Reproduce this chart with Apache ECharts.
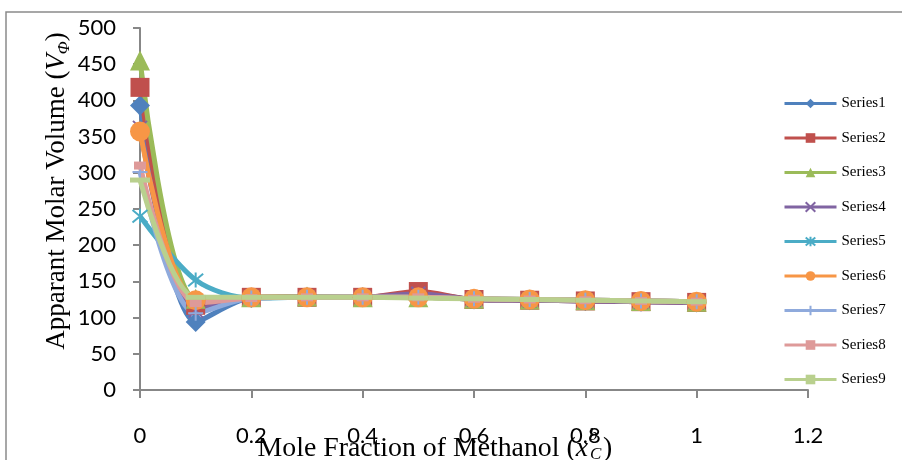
<!DOCTYPE html>
<html>
<head>
<meta charset="utf-8">
<script src="https://cdn.jsdelivr.net/npm/echarts@6/dist/echarts.min.js"></script>
<style>
  html, body { margin: 0; padding: 0; background: #fff; }
  #chart { width: 902px; height: 460px; }
</style>
</head>
<body>
<div id="chart"></div>
<script>
// mole fraction of methanol
const xValues = [0, 0.1, 0.2, 0.3, 0.4, 0.5, 0.6, 0.7, 0.8, 0.9, 1.0]

const series1 = [393, 94, 127, 128, 128, 134, 125, 124, 123, 122, 121]
const series2 = [418, 117, 128, 128, 128, 136, 125, 124, 123, 122, 121]
const series3 = [455, 126, 128, 129, 128, 128, 126, 125, 124, 123, 122]
const series4 = [362, 110, 128, 128, 128, 133, 125, 124, 123, 122, 121]
const series5 = [240, 152, 127, 128, 128, 128, 126, 125, 124, 123, 122]
const series6 = [357, 124, 128, 128, 128, 128, 126, 125, 124, 123, 122]
const series7 = [301, 106, 127, 128, 128, 128, 126, 125, 124, 123, 122]
const series8 = [310, 120, 127, 128, 128, 128, 126, 125, 124, 123, 122]
const series9 = [290, 128, 128, 128, 128, 127, 126, 125, 124, 123, 122]

const seriesNames = ['Series1', 'Series2', 'Series3', 'Series4', 'Series5', 'Series6', 'Series7', 'Series8', 'Series9']
const seriesValues = [series1, series2, series3, series4, series5, series6, series7, series8, series9]
const colors = ['#4F81BD', '#C0504D', '#9BBB59', '#8064A2', '#4BACC6', '#F79646', '#8FAADC', '#DE9A99', '#B9D08E']

const markers = [
  { symbol: 'diamond', size: 20 },
  { symbol: 'rect', size: 19 },
  { symbol: 'triangle', size: 20 },
  { symbol: 'path://M0,0L10,10M10,0L0,10', size: 14, stroke: true },
  { symbol: 'path://M0,0L10,10M10,0L0,10M5,-1L5,11', size: 15, stroke: true },
  { symbol: 'circle', size: 20 },
  { symbol: 'path://M5,0L5,10M0,5L10,5', size: 15, stroke: true },
  { symbol: 'rect', size: [12, 8] },
  { symbol: 'rect', size: [20, 5] }
]

const axisGrey = '#878787'
const tickFont = 'Lato, "Open Sans", sans-serif'
const serif = '"Liberation Serif", "DejaVu Serif", serif'

const chart = echarts.init(document.getElementById('chart'))

const seriesData = seriesNames.map((name, i) => {
  const m = markers[i]
  return {
    name: name,
    type: 'line',
    smooth: 0.3,
    data: xValues.map((x, j) => [x, seriesValues[i][j]]),
    symbol: m.symbol,
    symbolSize: m.size,
    showAllSymbol: true,
    lineStyle: { color: colors[i], width: 5 },
    itemStyle: m.stroke
      ? { color: colors[i], borderColor: colors[i], borderWidth: 2 }
      : { color: colors[i] },
    emphasis: { disabled: true }
  }
})

chart.setOption({
  animation: false,
  backgroundColor: '#fff',
  grid: {
    left: 140,
    right: 94,
    top: 28,
    bottom: 70
  },
  legend: {
    orient: 'vertical',
    left: 783,
    top: 96,
    padding: 0,
    itemWidth: 52,
    itemHeight: 12,
    itemGap: 19.5,
    data: seriesNames,
    textStyle: {
      fontFamily: serif,
      fontSize: 15,
      color: '#000'
    },
    lineStyle: { width: 3 }
  },
  xAxis: {
    type: 'value',
    min: 0,
    max: 1.2,
    interval: 0.2,
    splitLine: { show: false },
    axisLine: { onZero: false, lineStyle: { color: axisGrey, width: 2 } },
    axisTick: { show: true, length: 8, lineStyle: { color: axisGrey, width: 2 } },
    axisLabel: {
      margin: 35,
      fontFamily: tickFont,
      fontSize: 22,
      color: '#000',
      formatter: v => String(Math.round(v * 10) / 10)
    }
  },
  yAxis: {
    type: 'value',
    min: 0,
    max: 500,
    interval: 50,
    splitLine: { show: false },
    axisLine: { show: true, lineStyle: { color: axisGrey, width: 2 } },
    axisTick: { show: true, length: 7, lineStyle: { color: axisGrey, width: 2 } },
    axisLabel: {
      margin: 24,
      fontFamily: tickFont,
      fontSize: 22,
      color: '#000'
    }
  },
  graphic: [
    {
      type: 'rect',
      silent: true,
      z: -10,
      shape: { x: 6, y: 12, width: 1000, height: 1000 },
      style: { fill: 'none', stroke: '#8a8a8a', lineWidth: 1.5 }
    },
    {
      type: 'text',
      x: 57,
      y: 191,
      rotation: Math.PI / 2,
      style: {
        text: '{a|Apparant Molar Volume (}{i|V}{s|Φ}{a|)}',
        align: 'center',
        verticalAlign: 'middle',
        textAlign: 'center',
        textVerticalAlign: 'middle',
        rich: {
          a: { fontFamily: serif, fontSize: 27, color: '#000', lineHeight: 32, verticalAlign: 'middle' },
          i: { fontFamily: serif, fontSize: 27, fontStyle: 'italic', color: '#000', lineHeight: 32, verticalAlign: 'middle' },
          s: { fontFamily: serif, fontSize: 17, fontStyle: 'italic', color: '#000', lineHeight: 14, verticalAlign: 'bottom' }
        }
      }
    },
    {
      type: 'text',
      x: 588,
      y: 449,
      style: {
        text: '{a|Mole Fraction of Methanol (}{i|x}',
        align: 'right',
        verticalAlign: 'middle',
        textAlign: 'right',
        textVerticalAlign: 'middle',
        rich: {
          a: { fontFamily: serif, fontSize: 27.8, color: '#000' },
          i: { fontFamily: serif, fontSize: 27.8, fontStyle: 'italic', color: '#000' }
        }
      }
    },
    {
      type: 'text',
      x: 589,
      y: 436,
      style: { text: 'b', font: 'italic 17px ' + serif, fill: '#000', align: 'left', verticalAlign: 'middle', textAlign: 'left', textVerticalAlign: 'middle' }
    },
    {
      type: 'text',
      x: 590,
      y: 455,
      style: { text: 'C', font: 'italic 17px ' + serif, fill: '#000', align: 'left', verticalAlign: 'middle', textAlign: 'left', textVerticalAlign: 'middle' }
    },
    {
      type: 'text',
      x: 603,
      y: 449,
      style: { text: ')', font: '27.8px ' + serif, fill: '#000', align: 'left', verticalAlign: 'middle', textAlign: 'left', textVerticalAlign: 'middle' }
    }
  ],
  series: seriesData
})
</script>
</body>
</html>
